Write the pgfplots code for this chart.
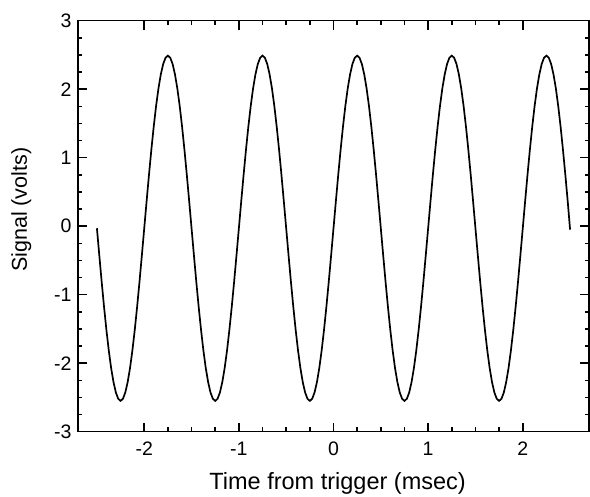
\documentclass[border=0pt]{standalone}
\usepackage{pgfplots}
\pgfplotsset{compat=1.18}
\usepackage{pgfplotstable}
\usepackage{fontspec}
\setmainfont{Liberation Sans}

\pgfplotstableread{
t y
-2.500 -0.03
-2.475 -0.424
-2.450 -0.809
-2.425 -1.174
-2.400 -1.511
-2.375 -1.812
-2.350 -2.069
-2.325 -2.275
-2.300 -2.427
-2.275 -2.519
-2.250 -2.55
-2.225 -2.519
-2.200 -2.427
-2.175 -2.275
-2.150 -2.069
-2.125 -1.812
-2.100 -1.511
-2.075 -1.174
-2.050 -0.809
-2.025 -0.424
-2.000 -0.03
-1.975 0.364
-1.950 0.749
-1.925 1.114
-1.900 1.451
-1.875 1.752
-1.850 2.009
-1.825 2.215
-1.800 2.367
-1.775 2.459
-1.750 2.49
-1.725 2.459
-1.700 2.367
-1.675 2.215
-1.650 2.009
-1.625 1.752
-1.600 1.451
-1.575 1.114
-1.550 0.749
-1.525 0.364
-1.500 -0.03
-1.475 -0.424
-1.450 -0.809
-1.425 -1.174
-1.400 -1.511
-1.375 -1.812
-1.350 -2.069
-1.325 -2.275
-1.300 -2.427
-1.275 -2.519
-1.250 -2.55
-1.225 -2.519
-1.200 -2.427
-1.175 -2.275
-1.150 -2.069
-1.125 -1.812
-1.100 -1.511
-1.075 -1.174
-1.050 -0.809
-1.025 -0.424
-1.000 -0.03
-0.975 0.364
-0.950 0.749
-0.925 1.114
-0.900 1.451
-0.875 1.752
-0.850 2.009
-0.825 2.215
-0.800 2.367
-0.775 2.459
-0.750 2.49
-0.725 2.459
-0.700 2.367
-0.675 2.215
-0.650 2.009
-0.625 1.752
-0.600 1.451
-0.575 1.114
-0.550 0.749
-0.525 0.364
-0.500 -0.03
-0.475 -0.424
-0.450 -0.809
-0.425 -1.174
-0.400 -1.511
-0.375 -1.812
-0.350 -2.069
-0.325 -2.275
-0.300 -2.427
-0.275 -2.519
-0.250 -2.55
-0.225 -2.519
-0.200 -2.427
-0.175 -2.275
-0.150 -2.069
-0.125 -1.812
-0.100 -1.511
-0.075 -1.174
-0.050 -0.809
-0.025 -0.424
0.000 -0.03
0.025 0.364
0.050 0.749
0.075 1.114
0.100 1.451
0.125 1.752
0.150 2.009
0.175 2.215
0.200 2.367
0.225 2.459
0.250 2.49
0.275 2.459
0.300 2.367
0.325 2.215
0.350 2.009
0.375 1.752
0.400 1.451
0.425 1.114
0.450 0.749
0.475 0.364
0.500 -0.03
0.525 -0.424
0.550 -0.809
0.575 -1.174
0.600 -1.511
0.625 -1.812
0.650 -2.069
0.675 -2.275
0.700 -2.427
0.725 -2.519
0.750 -2.55
0.775 -2.519
0.800 -2.427
0.825 -2.275
0.850 -2.069
0.875 -1.812
0.900 -1.511
0.925 -1.174
0.950 -0.809
0.975 -0.424
1.000 -0.03
1.025 0.364
1.050 0.749
1.075 1.114
1.100 1.451
1.125 1.752
1.150 2.009
1.175 2.215
1.200 2.367
1.225 2.459
1.250 2.49
1.275 2.459
1.300 2.367
1.325 2.215
1.350 2.009
1.375 1.752
1.400 1.451
1.425 1.114
1.450 0.749
1.475 0.364
1.500 -0.03
1.525 -0.424
1.550 -0.809
1.575 -1.174
1.600 -1.511
1.625 -1.812
1.650 -2.069
1.675 -2.275
1.700 -2.427
1.725 -2.519
1.750 -2.55
1.775 -2.519
1.800 -2.427
1.825 -2.275
1.850 -2.069
1.875 -1.812
1.900 -1.511
1.925 -1.174
1.950 -0.809
1.975 -0.424
2.000 -0.03
2.025 0.364
2.050 0.749
2.075 1.114
2.100 1.451
2.125 1.752
2.150 2.009
2.175 2.215
2.200 2.367
2.225 2.459
2.250 2.49
2.275 2.459
2.300 2.367
2.325 2.215
2.350 2.009
2.375 1.752
2.400 1.451
2.425 1.114
2.450 0.749
2.475 0.364
2.500 -0.05
}\signal

\begin{document}
\begin{tikzpicture}
\begin{axis}[
  scale only axis,
  width=511pt, height=411pt,
  xmin=-2.7, xmax=2.7, ymin=-3, ymax=3,
  xtick={-2,-1,0,1,2},
  ytick={-3,-2,-1,0,1,2,3},
  minor tick num=3,
  tick align=inside,
  major tick length=9pt,
  minor tick length=4.5pt,
  axis line style={line width=1.5pt},
  every tick/.style={black, line width=1.5pt},
  /pgf/number format/assume math mode=true,
  tick label style={font=\fontsize{19.5}{23}\selectfont},
  xticklabel style={yshift=-7pt},
  yticklabel style={xshift=-3pt},
  xlabel={Time from trigger (msec)},
  ylabel={Signal (volts)},
  xlabel style={font=\fontsize{23.5}{27}\selectfont, at={(axis description cs:0.508,0)}, anchor=base, yshift=-58pt},
  ylabel style={font=\fontsize{21.5}{25}\selectfont, at={(axis description cs:0,0.54)}, anchor=base, yshift=51pt},
]
\addplot[black, line width=1.7pt] table[x=t, y=y] {\signal};
\end{axis}
\pgfresetboundingbox
\path[use as bounding box] ([shift={(-78pt,-64.3pt)}]current axis.south west) rectangle ([shift={(1pt,20.7pt)}]current axis.north east);
\end{tikzpicture}
\end{document}
